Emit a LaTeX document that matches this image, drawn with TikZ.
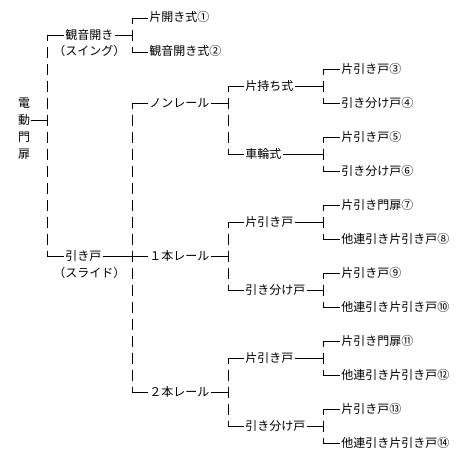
\documentclass[tikz,border=0pt]{standalone}
\usepackage{fontspec}
\setmainfont{Noto Sans CJK JP}

\begin{document}
\begin{tikzpicture}[x=1pt, y=-1pt, line width=0.9pt,
    lbl/.style={anchor=west, inner sep=1pt, text height=10pt, text depth=2pt, font=\fontsize{12}{14}\selectfont},
    vdash/.style={dash pattern=on 11pt off 6pt, dash phase=5.5pt}]
    \useasboundingbox (0,0) rectangle (475,463);
    % root (vertical text)
    \node[lbl, anchor=center] (r1) at (24,103) {電};
    \node[lbl, anchor=center] (r2) at (24,120) {動};
    \node[lbl, anchor=center] (r3) at (24,137) {門};
    \node[lbl, anchor=center] (r4) at (24,154) {扉};
    % level 1
    \node[lbl] (kan) at (64,35) {観音開き};
    \node[lbl] (kansub) at (52,52) {（スイング）};
    \node[lbl] (hiki) at (64,256) {引き戸};
    \node[lbl] (hikisub) at (52,273) {（スライド）};
    \node[lbl] (kan1) at (148,18) {片開き式①};
    \node[lbl] (kan2) at (148,52) {観音開き式②};
    % level 2
    \node[lbl] (non) at (148,103) {ノンレール};
    \node[lbl] (ichi) at (148,256) {１本レール};
    \node[lbl] (ni) at (148,392) {２本レール};
    % level 3
    \node[lbl] (mochi) at (244,86) {片持ち式};
    \node[lbl] (sharin) at (244,154) {車輪式};
    \node[lbl] (ikata) at (244,222) {片引き戸};
    \node[lbl] (iwake) at (244,290) {引き分け戸};
    \node[lbl] (nkata) at (244,358) {片引き戸};
    \node[lbl] (nwake) at (244,426) {引き分け戸};
    % level 4
    \node[lbl] (d3) at (340,69) {片引き戸③};
    \node[lbl] (d4) at (340,103) {引き分け戸④};
    \node[lbl] (d5) at (340,137) {片引き戸⑤};
    \node[lbl] (d6) at (340,171) {引き分け戸⑥};
    \node[lbl] (d7) at (340,205) {片引き門扉⑦};
    \node[lbl] (d8) at (340,239) {他連引き片引き戸⑧};
    \node[lbl] (d9) at (340,273) {片引き戸⑨};
    \node[lbl] (d10) at (340,307) {他連引き片引き戸⑩};
    \node[lbl] (d11) at (340,341) {片引き門扉⑪};
    \node[lbl] (d12) at (340,375) {他連引き片引き戸⑫};
    \node[lbl] (d13) at (340,409) {片引き戸⑬};
    \node[lbl] (d14) at (340,443) {他連引き片引き戸⑭};
    % branches
    \foreach \p/\x/\a/\b in {r2/47/kan/hiki, kan/132/kan1/kan2, hiki/132/non/ni,
        non/228/mochi/sharin, ichi/228/ikata/iwake, ni/228/nkata/nwake,
        mochi/323/d3/d4, sharin/323/d5/d6, ikata/323/d7/d8,
        iwake/323/d9/d10, nkata/323/d11/d12, nwake/323/d13/d14} {
        \coordinate (j) at (\x,0);
        \draw (\p.east) -- (j |- \p.east);
        \draw[vdash] (j |- \a.west) -- (j |- \b.west);
        \draw (j |- \a.west) -- (\a.west);
        \draw (j |- \b.west) -- (\b.west);
    }
    \draw (hiki.east) -- (ichi.west);
\end{tikzpicture}
\end{document}
